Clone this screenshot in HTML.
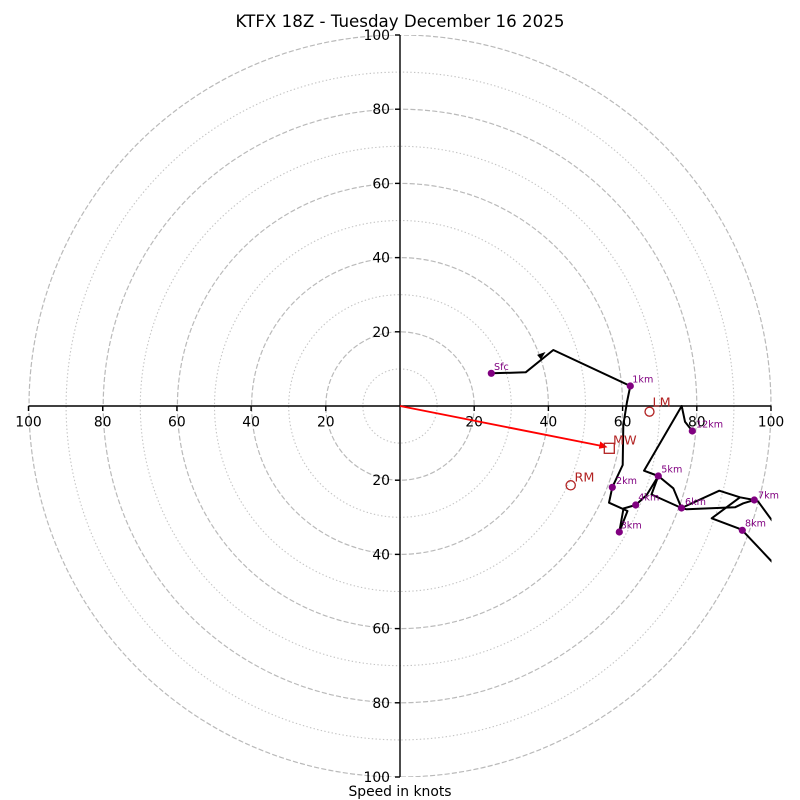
<!DOCTYPE html>
<html><head><meta charset="utf-8"><style>
html,body{margin:0;padding:0;background:#fff;}
svg{display:block;}
text{font-family:"DejaVu Sans","Liberation Sans",sans-serif;}
</style></head><body>
<svg width="800" height="800" viewBox="0 0 800 800" xmlns="http://www.w3.org/2000/svg">
<defs><clipPath id="ax"><rect x="28.5" y="35" width="743" height="742"/></clipPath></defs>
<rect width="800" height="800" fill="#fff"/>
<text x="400" y="27" text-anchor="middle" font-size="16.67">KTFX 18Z - Tuesday December 16 2025</text>
<g clip-path="url(#ax)" fill="none">
<g stroke="#c4c4c4" stroke-width="1.1" stroke-dasharray="1.4,2.3">
<circle cx="400" cy="406" r="37.1"/><circle cx="400" cy="406" r="111.3"/><circle cx="400" cy="406" r="185.5"/><circle cx="400" cy="406" r="259.7"/><circle cx="400" cy="406" r="333.9"/>
</g>
<g stroke="#bababa" stroke-width="1.2" stroke-dasharray="5.1,2.2">
<circle cx="400" cy="406" r="74.2"/><circle cx="400" cy="406" r="148.4"/><circle cx="400" cy="406" r="222.6"/><circle cx="400" cy="406" r="296.8"/><circle cx="400" cy="406" r="371"/>
</g>
</g>
<g stroke="#000" stroke-width="1.4">
<line x1="28.5" y1="406" x2="771.5" y2="406"/>
<line x1="400" y1="35" x2="400" y2="777"/>
<line x1="28.5" y1="406" x2="28.5" y2="411"/><line x1="102.7" y1="406" x2="102.7" y2="411"/><line x1="176.9" y1="406" x2="176.9" y2="411"/><line x1="251.1" y1="406" x2="251.1" y2="411"/><line x1="325.8" y1="406" x2="325.8" y2="411"/>
<line x1="474.2" y1="406" x2="474.2" y2="411"/><line x1="548.4" y1="406" x2="548.4" y2="411"/><line x1="622.6" y1="406" x2="622.6" y2="411"/><line x1="696.8" y1="406" x2="696.8" y2="411"/><line x1="771" y1="406" x2="771" y2="411"/>
<line x1="395" y1="35" x2="400" y2="35"/><line x1="395" y1="109.2" x2="400" y2="109.2"/><line x1="395" y1="183.4" x2="400" y2="183.4"/><line x1="395" y1="257.6" x2="400" y2="257.6"/><line x1="395" y1="331.8" x2="400" y2="331.8"/>
<line x1="395" y1="480.2" x2="400" y2="480.2"/><line x1="395" y1="554.4" x2="400" y2="554.4"/><line x1="395" y1="628.6" x2="400" y2="628.6"/><line x1="395" y1="702.8" x2="400" y2="702.8"/><line x1="395" y1="777" x2="400" y2="777"/>
</g>
<g font-size="13.9" text-anchor="middle" fill="#000">
<text x="28.5" y="426.5">100</text><text x="102.7" y="426.5">80</text><text x="176.9" y="426.5">60</text><text x="251.1" y="426.5">40</text><text x="325.8" y="426.5">20</text>
<text x="474.2" y="426.5">20</text><text x="548.4" y="426.5">40</text><text x="622.6" y="426.5">60</text><text x="696.8" y="426.5">80</text><text x="771" y="426.5">100</text>
</g>
<g font-size="13.9" text-anchor="end" fill="#000">
<text x="390" y="40">100</text><text x="390" y="114.2">80</text><text x="390" y="188.4">60</text><text x="390" y="262.6">40</text><text x="390" y="336.8">20</text>
<text x="390" y="485.2">20</text><text x="390" y="559.4">40</text><text x="390" y="633.6">60</text><text x="390" y="707.8">80</text><text x="390" y="782">100</text>
</g>
<text x="400" y="796" text-anchor="middle" font-size="13.9">Speed in knots</text>
<line x1="400" y1="406" x2="602" y2="446" stroke="#ff0000" stroke-width="1.9"/>
<polygon points="607.5,447.2 598.8,448.8 600.3,441.4" fill="#ff0000"/>
<g clip-path="url(#ax)" fill="none" stroke="#000" stroke-width="2" stroke-linejoin="round">
<polyline points="491.3,373.3 525.7,372.3 553.3,350 630.3,386 627,402 623.3,425 622.7,465 612.3,487.3 609,502.7 627.5,511 619.3,532 623.5,508.5 635.7,505 646.7,495 658.3,476 651.5,494.5 681.5,508"/>
<polyline points="692.3,431 685,421.7 681.7,406 644,470.7 658.3,476 673.3,488.3 681.5,508 719.3,490.7 740,497.3 754.3,500"/>
<polyline points="681.5,508 686.7,509.3 735,507.3 743.3,503.3 754.3,500 758.3,501.7 776,526"/>
<polyline points="740,497.3 711.7,518.3 738.3,528.3 742.3,530.3 776,566"/>
</g>
<polygon points="545.5,352 537.1,354.9 540.9,359.5" fill="#000"/>
<g fill="#800080">
<circle cx="491.3" cy="373.3" r="3.6"/><circle cx="630.3" cy="386" r="3.6"/><circle cx="612.3" cy="487.3" r="3.6"/><circle cx="619.3" cy="532" r="3.6"/><circle cx="635.7" cy="505" r="3.6"/><circle cx="658.3" cy="476" r="3.6"/><circle cx="681.5" cy="508" r="3.6"/><circle cx="754.3" cy="500" r="3.6"/><circle cx="742.3" cy="530.3" r="3.6"/><circle cx="692.3" cy="431" r="3.6"/>
</g>
<g fill="#800080" font-size="9.6">
<text x="494" y="370">Sfc</text><text x="632.3" y="382.7">1km</text><text x="616" y="484">2km</text><text x="620.7" y="528.7">3km</text><text x="638.3" y="500.7">4km</text><text x="661.3" y="472.3">5km</text><text x="685" y="505">6km</text><text x="758" y="498.3">7km</text><text x="745" y="526.7">8km</text><text x="696" y="427.3">12km</text>
</g>
<rect x="604.3" y="443.3" width="10" height="10" fill="none" stroke="#b22222" stroke-width="1.3"/>
<circle cx="649.5" cy="411.7" r="4.5" fill="none" stroke="#b22222" stroke-width="1.3"/>
<circle cx="570.7" cy="485.3" r="4.6" fill="none" stroke="#b22222" stroke-width="1.3"/>
<g fill="#b22222" font-size="12.8">
<text x="613" y="444.3">MW</text><text x="652.5" y="406.7">LM</text><text x="574.5" y="481.7">RM</text>
</g>
</svg>
</body></html>
